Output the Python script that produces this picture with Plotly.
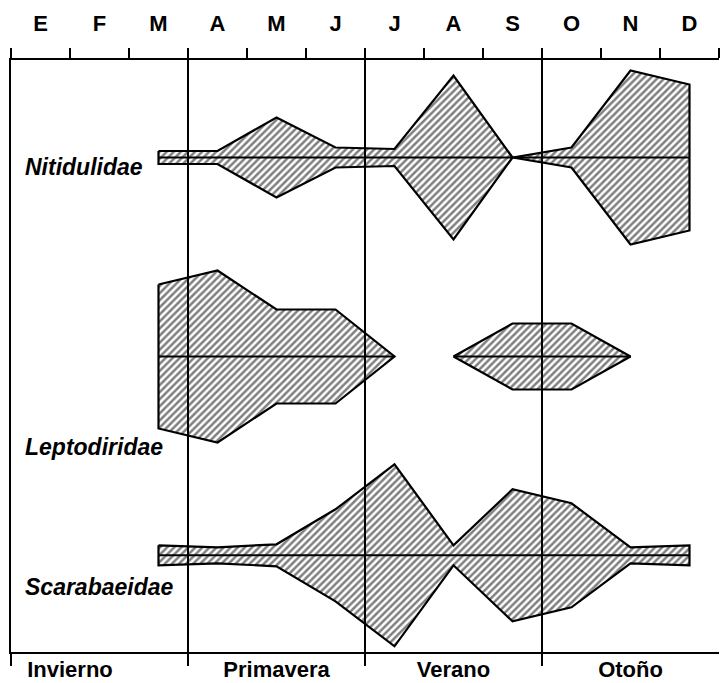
import plotly.graph_objects as go

# eje superior: meses (enero = 0 ... diciembre = 12)
month_labels = ["E", "F", "M", "A", "M", "J", "J", "A", "S", "O", "N", "D"]
month_centers = [0.5, 1.5, 2.5, 3.5, 4.5, 5.5, 6.5, 7.5, 8.5, 9.5, 10.5, 11.5]
month_bounds = [0, 1, 2, 3, 4, 5, 6, 7, 8, 9, 10, 11, 12]

# eje inferior: estaciones
season_labels = ["Invierno", "Primavera", "Verano", "Otoño"]
season_pos = [1.0, 4.5, 7.5, 10.5]
season_bounds = [3, 6, 9]

# muestreos mensuales (marzo a diciembre), semiancho de cada familia
sample_x = [2.5, 3.5, 4.5, 5.5, 6.5, 7.5, 8.5, 9.5, 10.5, 11.5]
nitidulidae = [6.5, 6.5, 40, 10, 8.5, 82, 0, 10, 87, 73]
leptodiridae = [72, 86, 47, 47, 0, 0, 33, 33, 0, None]
scarabaeidae = [10, 8, 11, 46, 91, 10, 66, 52, 8, 10]

families = ["Nitidulidae", "Leptodiridae", "Scarabaeidae"]
series = [nitidulidae, leptodiridae, scarabaeidae]
baselines = [-97.5, -296.5, -495.3]
label_y = [-107, -387, -527]


def _segments(xs, vals):
    # corta el polígono donde hay dos ceros seguidos o falta el dato
    segs, cur = [], []
    for x, v in zip(xs, vals):
        if v is None:
            if len(cur) > 1:
                segs.append(cur)
            cur = []
            continue
        if cur and v == 0 and cur[-1][1] == 0:
            if len(cur) > 1:
                segs.append(cur)
            cur = []
        cur.append((x, v))
    if len(cur) > 1:
        segs.append(cur)
    return segs


fig = go.Figure()

for name, vals, base in zip(families, series, baselines):
    for seg in _segments(sample_x, vals):
        xs = [p[0] for p in seg]
        up = [base + p[1] for p in seg]
        lo = [base - p[1] for p in seg]
        fig.add_trace(
            go.Scatter(
                x=xs + xs[::-1] + [xs[0]],
                y=up + lo[::-1] + [up[0]],
                mode="lines",
                fill="toself",
                fillcolor="white",
                fillpattern=dict(shape="/", size=5, solidity=0.5, fgcolor="black", bgcolor="white"),
                line=dict(color="black", width=2.2),
                name=name,
                showlegend=False,
                hoverinfo="skip",
            )
        )
        fig.add_trace(
            go.Scatter(
                x=[xs[0], xs[-1]],
                y=[base, base],
                mode="lines",
                line=dict(color="black", width=2),
                showlegend=False,
                hoverinfo="skip",
            )
        )

# traza vacía para que exista el eje superior
fig.add_trace(go.Scatter(x=[0, 12], y=[None, None], xaxis="x2", mode="lines", showlegend=False, hoverinfo="skip"))

for b in season_bounds:
    fig.add_vline(x=b, line=dict(color="black", width=2))

for name, ly in zip(families, label_y):
    fig.add_annotation(
        x=0.2, y=ly, xref="x", yref="y",
        text=f"<b><i>{name}</i></b>",
        showarrow=False, xanchor="left", yanchor="middle",
        font=dict(family="Liberation Sans", size=23, color="black"),
    )

fig.update_layout(
    width=720,
    height=683,
    margin=dict(l=11, r=1, t=60, b=31),
    plot_bgcolor="white",
    paper_bgcolor="white",
    font=dict(family="Liberation Sans", color="black"),
    xaxis=dict(
        range=[0, 12],
        side="bottom",
        showline=True, linecolor="black", linewidth=2,
        showgrid=False, zeroline=False,
        tickvals=season_pos,
        ticktext=[f"<b>{s}</b>" for s in season_labels],
        ticks="",
        ticklabelstandoff=-3,
        tickfont=dict(size=22),
        minor=dict(tickvals=[0] + season_bounds, ticks="outside", ticklen=12, tickwidth=2,
                   tickcolor="black", showgrid=False),
        automargin=False,
    ),
    xaxis2=dict(
        range=[0, 12],
        overlaying="x",
        anchor="y",
        side="top",
        showline=True, linecolor="black", linewidth=2,
        showgrid=False, zeroline=False,
        tickvals=month_centers,
        ticktext=[f"<b>{m}</b>" for m in month_labels],
        ticks="",
        ticklabelstandoff=18,
        tickfont=dict(size=22),
        minor=dict(tickvals=month_bounds, ticks="outside", ticklen=10, tickwidth=2,
                   tickcolor="black", showgrid=False),
        automargin=False,
    ),
    yaxis=dict(
        range=[-592, 0],
        showline=True, linecolor="black", linewidth=2,
        showgrid=False, zeroline=False,
        showticklabels=False, ticks="",
        automargin=False,
    ),
)

# sin margen del body para que la figura empiece en la esquina
fig.write_html(
    "out.html",
    config={"displayModeBar": False},
    post_script="document.body.style.margin='0';document.body.style.overflow='hidden';",
)
